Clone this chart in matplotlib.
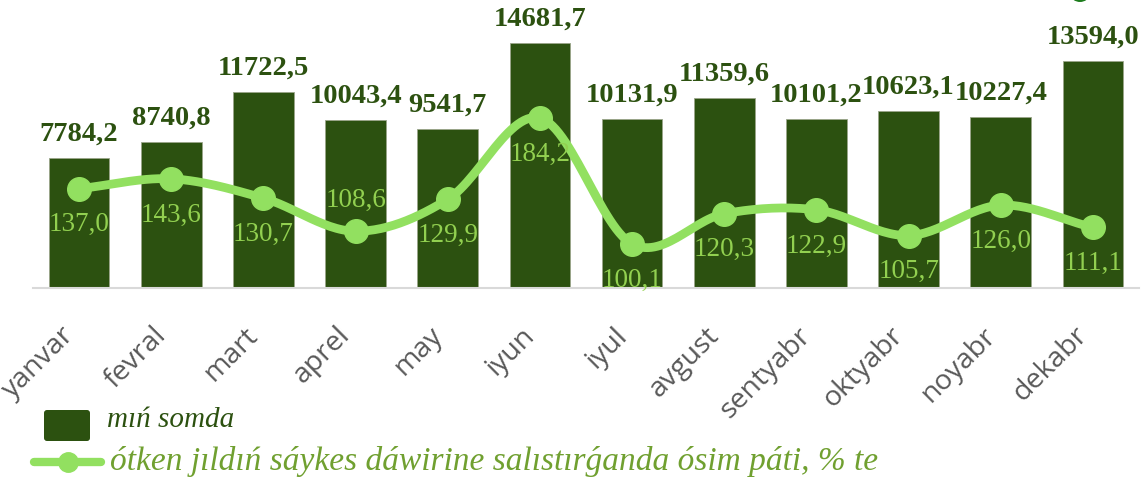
import numpy as np
import matplotlib
matplotlib.use("Agg")
import matplotlib.pyplot as plt
from matplotlib.patches import FancyBboxPatch, Ellipse
from matplotlib.lines import Line2D
from matplotlib.transforms import ScaledTranslation

months = ["yanvar", "fevral", "mart", "aprel", "may", "iyun", "iyul",
          "avgust", "sentyabr", "oktyabr", "noyabr", "dekabr"]
volume = [7784.2, 8740.8, 11722.5, 10043.4, 9541.7, 14681.7, 10131.9,
          11359.6, 10101.2, 10623.1, 10227.4, 13594.0]
growth = [137.0, 143.6, 130.7, 108.6, 129.9, 184.2, 100.1,
          120.3, 122.9, 105.7, 126.0, 111.1]
legend_bar = "mıń somda"
legend_line = "ótken jıldıń sáykes dáwirine salıstırǵanda ósim páti, % te"

# label placement style (above / below the point)
line_label_side = ["below", "below", "below", "above", "below", "below",
                   "below", "below", "below", "below", "below", "below"]

BAR_C = "#2C5110"
LINE_C = "#92E060"
LAB_C = "#92D050"
LEG2_C = "#70A030"
SERIF = ["Liberation Serif", "DejaVu Serif"]

def fmt(v):
    return f"{v:.1f}".replace(".", ",")

W, H = 1141, 479
fig = plt.figure(figsize=(W / 100, H / 100), dpi=100)
ax = fig.add_axes([33 / W, 1 - 288 / H, (1139 - 33) / W, 288 / H])
x = np.arange(len(months))
ax.bar(x, volume, width=0.66, color=BAR_C, edgecolor="#9aa58a", linewidth=0.6, zorder=2)
ax.set_xlim(-0.5, len(months) - 0.5)
ax.set_ylim(0, 17256)
for s in ["top", "right", "left"]:
    ax.spines[s].set_visible(False)
ax.spines["bottom"].set_color("#D9D9D9")
ax.spines["bottom"].set_linewidth(1.5)
ax.set_yticks([])
ax.set_xticks(x)
ax.set_xticklabels(months, rotation=45, ha="right", rotation_mode="anchor",
                   fontsize=20.5, color="#595959", family="Open Sans")
ax.tick_params(axis="x", length=0, pad=14)
shift = ScaledTranslation(-19 / 100, -14 / 100, fig.dpi_scale_trans)
for lab in ax.get_xticklabels():
    lab.set_transform(lab.get_transform() + shift)

for xi, v in zip(x, volume):
    ax.annotate(fmt(v), (xi, v), xytext=(0, 12.5), textcoords="offset points",
                ha="center", va="baseline", fontsize=20.5, fontweight="bold",
                color=BAR_C, family=SERIF, zorder=5)

ax2 = ax.twinx()
ax2.set_ylim(70.7, 263)
ax2.axis("off")

# smoothed line (Catmull-Rom through the data points)
gx = np.array(x, dtype=float)
gy = np.array(growth, dtype=float)
px = np.concatenate([[2 * gx[0] - gx[1]], gx, [2 * gx[-1] - gx[-2]]])
py = np.concatenate([[2 * gy[0] - gy[1]], gy, [2 * gy[-1] - gy[-2]]])
sx, sy = [], []
t = np.linspace(0, 1, 30)
for i in range(1, len(px) - 2):
    p0x, p1x, p2x, p3x = px[i - 1:i + 3]
    p0y, p1y, p2y, p3y = py[i - 1:i + 3]
    c1x, c1y = p1x + (p2x - p0x) / 6, p1y + (p2y - p0y) / 6
    c2x, c2y = p2x - (p3x - p1x) / 6, p2y - (p3y - p1y) / 6
    bx = (1 - t) ** 3 * p1x + 3 * (1 - t) ** 2 * t * c1x + 3 * (1 - t) * t ** 2 * c2x + t ** 3 * p2x
    by = (1 - t) ** 3 * p1y + 3 * (1 - t) ** 2 * t * c1y + 3 * (1 - t) * t ** 2 * c2y + t ** 3 * p2y
    sx.extend(bx); sy.extend(by)
ax2.plot(sx, sy, color=LINE_C, lw=6.3, solid_capstyle="round", zorder=3)
ax2.plot(gx, gy, "o", color=LINE_C, markersize=17, zorder=4)

for xi, v, side in zip(x, growth, line_label_side):
    dy = -26 if side == "below" else 22.5
    ax2.annotate(fmt(v), (xi, v), xytext=(0, dy), textcoords="offset points",
                 ha="center", va="center", fontsize=19.5, color=LAB_C,
                 family=SERIF, zorder=5)

# overlay for legend
ov = fig.add_axes([0, 0, 1, 1], zorder=10)
ov.set_xlim(0, W)
ov.set_ylim(H, 0)
ov.axis("off")
ov.patch.set_alpha(0)
ov.add_patch(FancyBboxPatch((44, 410), 46, 31, boxstyle="round,pad=0,rounding_size=3",
                            facecolor=BAR_C, edgecolor="none"))
ov.text(107, 427, legend_bar, fontsize=21, style="italic", color=BAR_C,
        family=SERIF, va="baseline", ha="left")
ov.add_line(Line2D([34, 101], [462, 462], color=LINE_C, lw=6, solid_capstyle="round"))
ov.plot([68], [462], "o", color=LINE_C, markersize=14)
ov.text(110, 470, legend_line, fontsize=24, style="italic", color=LEG2_C,
        family=SERIF, va="baseline", ha="left")
ov.add_patch(Ellipse((1080, -5), 18, 14, facecolor="#1E7D1E", edgecolor="none"))

fig.savefig("out.png", dpi=100)
